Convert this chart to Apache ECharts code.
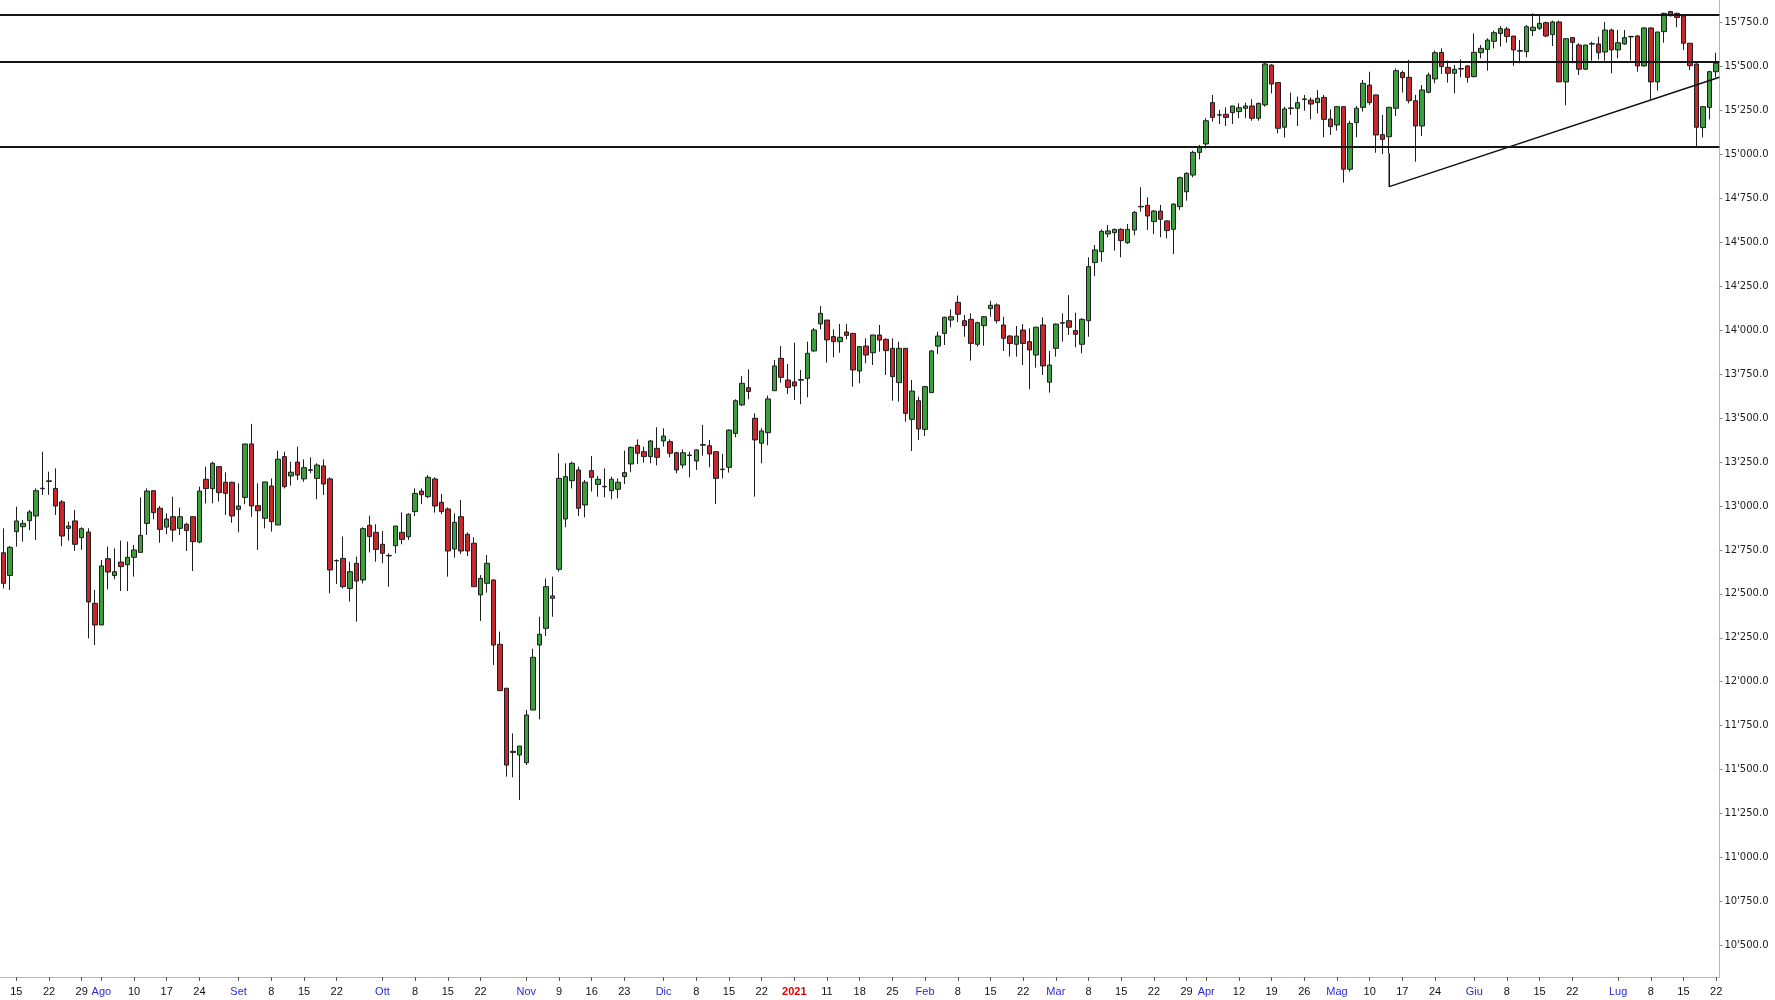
<!DOCTYPE html>
<html><head><meta charset="utf-8">
<script src="https://cdn.jsdelivr.net/npm/echarts@6/dist/echarts.min.js"></script>
<style>html,body{margin:0;padding:0;background:#fff}#c{width:1775px;height:1000px}</style>
</head><body><div id="c"></div>
<script>
// ---- trading days (category axis) ----
const monthKeys = ['2020-07','2020-08','2020-09','2020-10','2020-11','2020-12','2021-01','2021-02','2021-03','2021-04','2021-05','2021-06','2021-07'];
const monthDays = [
 [13,14,15,16,17,20,21,22,23,24,27,28,29,30,31],
 [3,4,5,6,7,10,11,12,13,14,17,18,19,20,21,24,25,26,27,28,31],
 [1,2,3,4,7,8,9,10,11,14,15,16,17,18,21,22,23,24,25,28,29,30],
 [1,2,5,6,7,8,9,12,13,14,15,16,19,20,21,22,23,26,27,28,29,30],
 [2,3,4,5,6,9,10,11,12,13,16,17,18,19,20,23,24,25,26,27,30],
 [1,2,3,4,7,8,9,10,11,14,15,16,17,18,21,22,23,28,29,30],
 [4,5,6,7,8,11,12,13,14,15,18,19,20,21,22,25,26,27,28,29],
 [1,2,3,4,5,8,9,10,11,12,15,16,17,18,19,22,23,24,25,26],
 [1,2,3,4,5,8,9,10,11,12,15,16,17,18,19,22,23,24,25,26,29,30,31],
 [1,6,7,8,9,12,13,14,15,16,19,20,21,22,23,26,27,28,29,30],
 [3,4,5,6,7,10,11,12,13,14,17,18,19,20,21,24,25,26,27,28,31],
 [1,2,3,4,7,8,9,10,11,14,15,16,17,18,21,22,23,24,25,28,29,30],
 [1,2,5,6,7,8,9,12,13,14,15,16,19,20,21,22]
];
const dates = monthKeys.flatMap((m,k)=>monthDays[k].map(d=>m+'-'+String(d).padStart(2,'0')));

// ---- x-axis tick labels ----
const labelDates = ['2020-07-15','2020-07-22','2020-07-29','2020-08-03','2020-08-10','2020-08-17','2020-08-24','2020-09-01','2020-09-08','2020-09-15','2020-09-22','2020-10-01','2020-10-08','2020-10-15','2020-10-22','2020-11-02','2020-11-09','2020-11-16','2020-11-23','2020-12-01','2020-12-08','2020-12-15','2020-12-22','2021-01-04','2021-01-11','2021-01-18','2021-01-25','2021-02-01','2021-02-08','2021-02-15','2021-02-22','2021-03-01','2021-03-08','2021-03-15','2021-03-22','2021-03-29','2021-04-01','2021-04-12','2021-04-19','2021-04-26','2021-05-03','2021-05-10','2021-05-17','2021-05-24','2021-06-01','2021-06-08','2021-06-15','2021-06-22','2021-07-01','2021-07-08','2021-07-15','2021-07-22'];
const labelTexts = ['15','22','29','Ago','10','17','24','Set','8','15','22','Ott','8','15','22','Nov','9','16','23','Dic','8','15','22','2021','11','18','25','Feb','8','15','22','Mar','8','15','22','29','Apr','12','19','26','Mag','10','17','24','Giu','8','15','22','Lug','8','15','22'];

// ---- y-axis tick labels ----
const yTicks = [10500,10750,11000,11250,11500,11750,12000,12250,12500,12750,13000,13250,13500,13750,14000,14250,14500,14750,15000,15250,15500,15750];

// ---- OHLC ----
const open = [
12734,12605,12854,12882,12916,12943,13098,13140,13100,13023,
12873,12915,12820,12852,12446,12323,12700,12604,12681,12666,
12708,12736,12901,13087,12987,12880,12939,12873,12896,12939,
12795,13152,13099,13224,13135,13135,12981,13049,13353,13002,
12930,13114,12892,13281,13171,13250,13154,13203,13157,13228,
13154,12690,12702,12531,12674,12579,12890,12850,12782,12716,
12774,12850,12825,12968,13085,13053,13154,13021,12983,12755,
12939,12839,12788,12494,12560,12579,12213,11963,11604,11583,
11539,11839,12209,12304,12475,12640,12926,13144,13205,13006,
13201,13123,13109,13087,13095,13167,13239,13345,13309,13281,
13328,13370,13366,13303,13233,13287,13256,13346,13343,13309,
13207,13220,13413,13575,13673,13499,13357,13417,13656,13840,
13717,13706,13716,13726,13882,14036,14058,13964,13935,13990,
13982,13768,13910,13872,13973,13948,13897,13702,13897,13493,
13599,13436,13645,13910,13982,14058,14159,14054,14062,13920,
14026,14123,14144,14030,13967,13920,14001,13935,13859,14030,
13704,13897,14040,14054,13998,13920,14054,14385,14447,14548,
14555,14574,14498,14570,14702,14711,14618,14678,14622,14574,
14703,14788,14883,15012,15060,15295,15224,15229,15238,15244,
15263,15276,15206,15282,15509,15409,15155,15262,15263,15313,
15310,15295,15325,15202,15168,15272,14916,15181,15268,15395,
15339,15113,15101,15263,15466,15439,15306,15162,15354,15430,
15581,15496,15462,15486,15504,15443,15579,15598,15644,15689,
15714,15674,15588,15585,15705,15718,15750,15682,15754,15413,
15665,15623,15485,15628,15629,15583,15708,15595,15629,15669,
15674,15504,15720,15413,15699,15813,15803,15788,15633,15515,
15153,15268,15471];
const close = [
12560,12765,12915,12901,12966,13087,13101,13143,13000,12829,
12886,12782,12871,12454,12323,12659,12624,12626,12655,12708,
12750,12833,13085,12962,12867,12926,12863,12939,12860,12797,
13085,13099,13243,13076,13072,12943,13000,13353,13000,12973,
13137,12911,13266,13110,13192,13176,13218,13206,13233,13125,
12636,12688,12541,12626,12573,12871,12826,12753,12731,12719,
12886,12810,12953,13072,13064,13163,13000,12968,12744,12907,
12744,12744,12541,12588,12674,12209,11949,11526,11598,11634,
11811,12139,12270,12541,12488,13157,13167,13243,12987,13135,
13163,13152,13112,13152,13135,13190,13334,13300,13281,13370,
13277,13398,13300,13205,13303,13290,13319,13349,13296,13157,
13210,13432,13599,13698,13651,13376,13427,13609,13797,13732,
13675,13683,13719,13869,14001,14096,13945,13935,13960,13971,
13774,13907,13859,13973,13944,13884,13736,13897,13527,13654,
13438,13679,13882,13967,14074,14077,14091,14026,13925,14043,
14077,14142,14054,13954,13925,13967,13925,13888,14017,13797,
13802,14035,14043,14017,13977,14062,14362,14457,14563,14565,
14574,14510,14574,14671,14705,14650,14678,14631,14567,14718,
14868,14893,15012,15045,15192,15211,15226,15211,15276,15266,
15276,15206,15291,15515,15401,15149,15259,15265,15295,15316,
15287,15320,15200,15158,15272,14916,15177,15263,15405,15295,
15111,15086,15268,15477,15437,15306,15162,15367,15452,15579,
15500,15462,15485,15489,15439,15581,15604,15651,15693,15716,
15671,15595,15591,15727,15724,15746,15674,15754,15413,15659,
15638,15485,15623,15631,15579,15708,15595,15636,15665,15672,
15504,15720,15413,15697,15803,15790,15780,15633,15505,15155,
15272,15471,15519];
const low = [
12531,12522,12769,12797,12863,12807,13063,13063,12949,12772,
12803,12744,12750,12247,12209,12323,12526,12583,12516,12516,
12598,12736,12835,12924,12791,12839,12797,12835,12744,12630,
12788,13015,13015,13025,12949,12905,12850,13010,12939,12750,
12873,12854,12892,13100,13116,13148,13138,13186,13038,13063,
12503,12556,12531,12456,12342,12560,12736,12683,12674,12541,
12731,12782,12807,12943,13011,13044,12962,12954,12598,12706,
12727,12715,12541,12346,12507,12095,11949,11460,11456,11327,
11526,11839,11786,12260,12370,12626,12879,13100,12943,12935,
13082,13053,13049,13038,13044,13125,13192,13239,13247,13243,
13231,13338,13277,13186,13214,13163,13205,13286,13220,13011,
13157,13190,13391,13569,13607,13053,13243,13345,13656,13702,
13637,13603,13579,13618,13878,14005,13816,13846,13872,13948,
13679,13698,13812,13802,13878,13745,13599,13594,13480,13313,
13375,13398,13645,13865,13916,14017,14047,13963,13827,13907,
13912,14077,14039,13882,13850,13850,13802,13664,13787,13745,
13645,13850,13935,13973,13903,13869,13963,14309,14390,14529,
14453,14415,14491,14540,14675,14570,14548,14529,14523,14434,
14684,14737,14870,14972,15035,15187,15174,15162,15174,15206,
15206,15192,15192,15272,15348,15120,15096,15225,15162,15249,
15200,15234,15098,15111,15136,14840,14902,15098,15244,15282,
15010,15003,15007,15219,15352,15291,14959,15105,15348,15405,
15458,15409,15348,15439,15409,15439,15547,15477,15604,15614,
15636,15505,15519,15553,15674,15708,15667,15617,15413,15280,
15519,15452,15481,15534,15541,15534,15462,15547,15623,15534,
15471,15500,15314,15363,15636,15784,15724,15595,15481,15045,
15098,15200,15439];
const high = [
12873,12772,12996,12920,12977,13100,13309,13195,13214,13034,
12911,12977,12879,12873,12522,12693,12769,12759,12803,12797,
12778,13049,13100,13087,13000,12958,13053,12991,12905,12939,
13110,13224,13252,13224,13192,13138,13129,13353,13467,13129,
13137,13157,13315,13309,13252,13338,13265,13277,13243,13265,
13163,12696,12826,12683,12712,12879,12945,12896,12858,12731,
12886,12964,12958,13100,13100,13176,13163,13068,12992,12958,
13034,12850,12822,12607,12721,12583,12285,11963,11706,11634,
11839,12188,12370,12588,12598,13300,13243,13252,13224,13148,
13284,13171,13214,13167,13157,13315,13338,13379,13338,13376,
13448,13442,13379,13309,13322,13309,13322,13461,13376,13309,
13296,13436,13607,13740,13778,13527,13442,13628,13831,13910,
13808,13929,13774,13935,14013,14138,14058,14005,14036,14036,
13986,13907,13954,13973,14030,13954,13954,13935,13897,13717,
13622,13683,13888,13992,14077,14119,14197,14087,14096,14049,
14081,14168,14153,14077,13973,14024,14035,14011,14020,14073,
13882,14039,14096,14200,14100,14068,14415,14485,14574,14599,
14578,14580,14605,14678,14813,14756,14684,14713,14627,14722,
14874,14898,15022,15054,15206,15339,15253,15268,15276,15291,
15295,15314,15295,15523,15513,15409,15272,15352,15329,15339,
15325,15367,15339,15257,15276,15272,15192,15276,15424,15471,
15339,15225,15272,15490,15477,15538,15339,15395,15466,15591,
15604,15534,15509,15541,15509,15689,15623,15661,15705,15731,
15727,15674,15652,15737,15803,15799,15756,15762,15762,15661,
15667,15633,15623,15642,15670,15754,15716,15708,15708,15674,
15680,15724,15724,15697,15807,15817,15807,15790,15633,15519,
15276,15477,15579];

// ---- drawn levels / trendline (prices) ----
const levels = [15795, 15526, 15044];
const trendStartDate = '2021-05-13';
const trendStartTop = 15007;
const trendStartBottom = 14817;
const trendEndDate = '2021-07-22';
const trendEndValue = 15433;

// ---- build ----
const N = dates.length;
const candles = dates.map((d,i)=>[open[i], close[i], low[i], high[i]]);
const labelMap = {};
labelDates.forEach((d,i)=>{ labelMap[d] = labelTexts[i]; });
const iS = dates.indexOf(trendStartDate), iE = dates.indexOf(trendEndDate);
const slope = (trendEndValue - trendStartBottom) / (iE - iS);
const edge = N - 0.5;
const trendData = [[iS, trendStartTop],[iS, trendStartBottom],[edge, trendStartBottom + slope*(edge - iS)]];

const band = 6.544;
const showLab = (i, v) => Object.prototype.hasOwnProperty.call(labelMap, v);
const fmtY = v => { const s = String(Math.round(v)); return s.slice(0,-3) + "'" + s.slice(-3) + '.0'; };

const chart = echarts.init(document.getElementById('c'), null, {renderer:'canvas'});
chart.setOption({
  animation:false,
  backgroundColor:'#ffffff',
  grid:{left:1.6 - band/2, top:0, width:band*N, height:977, containLabel:false},
  xAxis:[{
    type:'category', data:dates, boundaryGap:true,
    axisLine:{show:true, onZero:false, lineStyle:{color:'#b8b8b8', width:1}},
    axisTick:{show:true, interval:showLab, alignWithLabel:true, length:4, lineStyle:{color:'#555'}},
    axisLabel:{
      interval:showLab, margin:9, fontFamily:'Liberation Sans', fontSize:11, color:'#111',
      formatter:(v)=>{
        const t = labelMap[v];
        if (t === undefined) return '';
        if (t === '2021') return '{y|2021}';
        if (/^[0-9]+$/.test(t)) return '{d|' + t + '}';
        return '{m|' + t + '}';
      },
      rich:{
        d:{color:'#111', fontFamily:'Liberation Sans', fontSize:11},
        m:{color:'#2b2bd0', fontFamily:'Liberation Sans', fontSize:11},
        y:{color:'#e00000', fontFamily:'Liberation Sans', fontSize:11, fontWeight:'bold'}
      }
    },
    splitLine:{show:false}
  },{
    type:'value', min:-0.5, max:N-0.5, show:false,
    axisLine:{show:false, onZero:false}
  }],
  yAxis:{
    type:'value', position:'right', min:10320, max:15879,
    axisLine:{show:true, onZero:false, lineStyle:{color:'#b8b8b8', width:1}},
    axisTick:{show:true, customValues:yTicks, length:3, lineStyle:{color:'#888'}},
    axisLabel:{customValues:yTicks, formatter:fmtY, color:'#222', fontFamily:'DejaVu Sans', fontSize:10, margin:5},
    splitLine:{show:false}
  },
  series:[{
    type:'candlestick', data:candles, barWidth:5,
    itemStyle:{color:'#3c9e3c', color0:'#c6282d', borderColor:'#1e1e1e', borderColor0:'#1e1e1e', borderWidth:1},
    markLine:{
      silent:true, symbol:['none','none'], label:{show:false},
      lineStyle:{color:'#151515', width:2, type:'solid'},
      emphasis:{disabled:true},
      data: levels.map(v=>({yAxis:v}))
    }
  },{
    type:'line', xAxisIndex:1, data:trendData, symbol:'none', silent:true,
    lineStyle:{color:'#111', width:1.5}
  }]
});
</script></body></html>
